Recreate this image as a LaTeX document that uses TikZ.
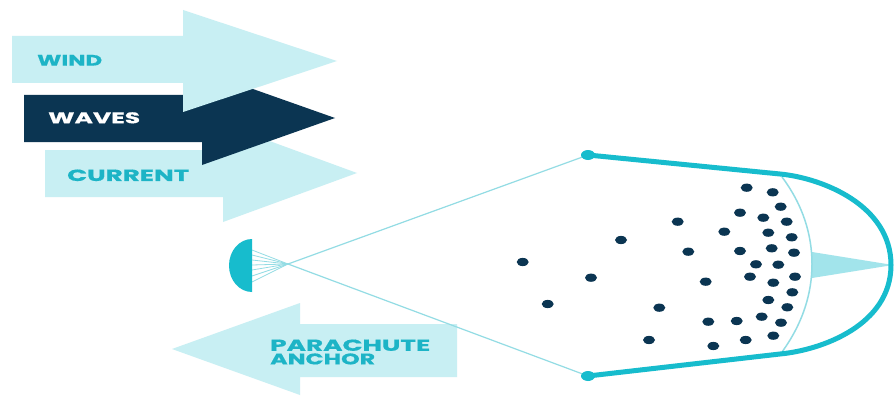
\documentclass[tikz,border=0pt]{standalone}
\usepackage{fontspec}
\newfontfamily\pop{Poppins}[BoldFeatures={FakeBold=0.6}]
\definecolor{lightfill}{HTML}{C8EFF3}
\definecolor{cyantext}{HTML}{1DB4C6}
\definecolor{navy}{HTML}{0B3552}
\definecolor{cyanline}{HTML}{17BCCD}
\definecolor{paleline}{HTML}{93DCE4}
\definecolor{trifill}{HTML}{A2E4EB}
\tikzset{
  lbl/.style={anchor=west, inner sep=0pt, font=\pop\bfseries},
  cable/.style={draw=paleline, line width=1.2pt},
  shroud/.style={draw=paleline, line width=0.8pt},
  dot/.style={fill=navy},
}
\newcommand{\fitt}[3]{\resizebox{#1pt}{#2pt}{#3}}
\begin{document}
\begin{tikzpicture}[x=1pt,y=-1pt]
\useasboundingbox (0,0) rectangle (895,396);
\fill[white] (0,0) rectangle (895,396);
% force arrows
\fill[lightfill] (45,150) -- (223,150) -- (223,124) -- (357,173) -- (223,222) -- (223,197) -- (45,197) -- cycle;
\fill[navy] (24,95) -- (202,95) -- (202,71) -- (335,118) -- (202,165) -- (202,142) -- (24,142) -- cycle;
\fill[lightfill] (12,36) -- (183,36) -- (183,10) -- (337,61) -- (183,112) -- (183,83) -- (12,83) -- cycle;
\node[lbl, text=cyantext] (wind) at (37,60.3) {\fitt{65}{10.7}{WIND}};
\node[lbl, text=white] (waves) at (48,117.8) {\fitt{92}{11}{WAVES}};
\node[lbl, text=cyantext] (current) at (67,175.3) {\fitt{122}{11.5}{CURRENT}};
% anchor arrow
\fill[lightfill] (457,324) -- (300,324) -- (300,303) -- (172,349) -- (300,395) -- (300,377) -- (457,377) -- cycle;
\node[lbl, anchor=north west, align=left, text=cyantext, font=\pop\bfseries\fontsize{11}{13.6}\selectfont] (para) at (270,339.3)
  {\fitt{160}{11.3}{PARACHUTE}\\\fitt{105}{11}{ANCHOR}};
% coordinates
\coordinate (cross) at (288,264);
\coordinate (ptop) at (588,155);
\coordinate (pbot) at (588,376);
% cables
\draw[cable] (cross) -- (ptop);
\draw[cable] (cross) -- (pbot);
\foreach \yy in {250,255,260,265,270,276,282} {\draw[shroud] (252,\yy) -- (cross);}
% anchor half disc
\fill[cyanline] (252,239) -- (252,292) arc[start angle=-90, end angle=-270, x radius=23pt, y radius=26.5pt] -- cycle;
% parachute inner arc and triangle
\fill[trifill] (812,252) -- (893,265) -- (812,278) -- cycle;
\draw[paleline, line width=1.5pt] (782,177) .. controls (803,205) and (812,235) .. (812,264) .. controls (812,293) and (803,323) .. (782,352);
% parachute canopy
\draw[cyanline, line width=5pt] (ptop) -- (780,174) .. controls (822,178) and (891,205) .. (891,265) .. controls (891,325) and (822,350) .. (780,354) -- (pbot);
\fill[cyanline] (ptop) ellipse [x radius=7pt, y radius=5pt];
\fill[cyanline] (pbot) ellipse [x radius=7pt, y radius=5pt];
% particles
\foreach \px/\py in {746.7/187.7, 772.7/192.3, 780.7/206.7, 740/212.7, 763.3/217.7, 786.7/221.7, 677.7/221.7, 724.3/231.7, 768.3/232.7, 791.7/237.3, 621/240, 688.3/251.7, 740/251, 771.7/248.3, 794/252.7, 522.7/262, 756/264.3, 778.3/264.7, 591/277.7, 750/276.7, 795/276.7, 705.7/281.7, 773.3/282.7, 792.3/292.3, 547.7/304, 768.3/300, 659.3/307.7, 787.3/307.3, 761.7/316.7, 708.3/321.7, 736.7/321, 781/322.7, 649/340, 745.7/340, 773.3/335.7, 713.3/346}
  {\fill[dot] (\px,\py) ellipse [x radius=6pt, y radius=4.1pt];}
\end{tikzpicture}
\end{document}
